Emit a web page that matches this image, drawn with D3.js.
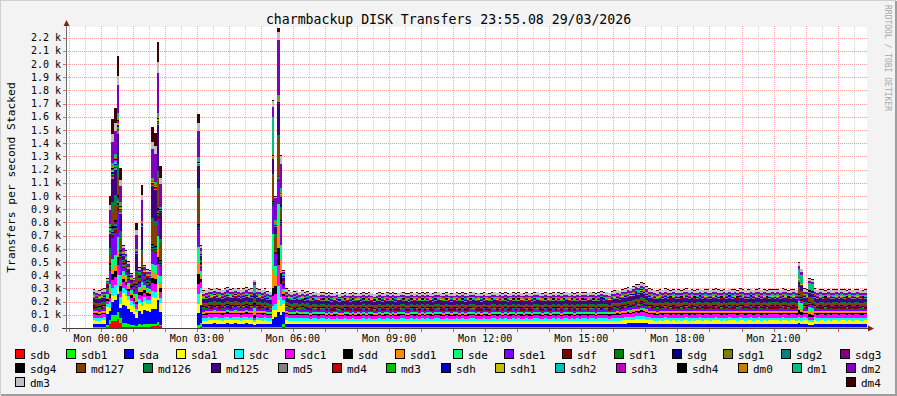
<!DOCTYPE html>
<html><head><meta charset="utf-8">
<script src="https://cdn.jsdelivr.net/npm/d3@7"></script>
<style>
body{margin:0;background:#F3F3F3}
svg{display:block}
text{font-family:"DejaVu Sans Mono",monospace;fill:#000}
</style>
</head><body>
<svg id="c" width="897" height="396"></svg>
<script>
// ---------- series ----------
const seriesNames = ["sdb","sdb1","sda","sda1","sdc","sdc1","sdd","sdd1","sde","sde1","sdf","sdf1","sdg","sdg1","sdg2","sdg3",
  "sdg4","md127","md126","md125","md5","md4","md3","sdh","sdh1","sdh2","sdh3","sdh4","dm0","dm1","dm2","dm3","dm4"];
const seriesColors = ["#FF0000","#00FF00","#0000FF","#FFFF00","#00FFFF","#FF00FF","#000000","#FF8C00","#00FF80","#8000FF","#800000","#008000","#000080","#808000","#008080","#800080",
  "#000000","#804000","#008040","#400080","#808080","#C00000","#00C000","#0000C0","#C0C000","#00C0C0","#C000C0","#000000","#C08000","#00C080","#8000C0","#C0C0C0","#400000"];
const legendRows = [16, 15, 2];

// ---------- time ----------
const startTime = "2026-03-29T22:55:00Z";
const endTime   = "2026-03-30T23:55:00Z";
const nightStart = "2026-03-29T23:45:00Z";
const dayStart   = "2026-03-30T03:00:00Z";
const stepMinutes = 5;

// ---------- totals per 5-minute step (transfers/s, stacked height) ----------
const totalsNight = [295,290,285,295,300,375,1000,1580,1670,2060,1210,630,590,505,420,380,795,460,1085,480,445,440,1520,1480,2170,1225];
const totalsDay = [
 1620,630,285,290,300,295,305,300,295,290,300,310,
 295,300,305,300,290,300,310,295,300,365,300,295,
 290,300,280,275,1730,1000,2270,1310,440,300,285,275,
 280,290,275,285,270,280,265,270,275,268,272,270,
 265,270,262,268,272,260,265,270,268,262,270,265,
 268,262,270,265,272,268,260,266,270,263,268,272,
 265,270,262,268,275,270,265,262,270,268,272,266,
 270,265,272,268,262,270,275,268,265,270,268,262,
 268,272,265,270,262,268,270,275,265,268,262,270,
 268,265,270,275,268,272,265,270,262,268,270,265,
 270,268,265,272,268,262,270,275,268,265,270,268,
 265,270,268,272,265,270,275,268,270,265,272,268,
 270,272,268,275,270,265,272,278,270,275,268,280,
 285,290,282,295,300,310,305,320,335,330,350,340,
 320,300,295,290,285,295,290,300,292,288,295,290,
 292,288,295,300,290,295,288,292,298,290,295,292,
 290,295,300,292,288,295,290,298,292,295,288,300,
 295,290,292,298,290,295,300,290,295,288,292,295,
 292,295,290,300,295,288,292,295,290,500,450,300,
 295,380,370,300,290,295,292,288,295,290,292,295,
 290,295,292,288,295,290,292,295,290,288,292];

// ---------- composition of each step (per-series values, same order as seriesNames) ----------
const profBase     = [2,4,25,23,20,23,9,9,6,15,4,4,4,2,2,4,4,15,8,27,4,2,2,4,2,2,2,2,4,4,15,18,5];
const profBurstA   = [68,58,139,51,89,76,63,51,101,202,30,20,15,10,15,15,20,140,100,230,20,15,15,15,10,10,10,10,20,30,215,76,150];
const profBurstB   = [20,20,150,110,60,80,50,60,80,120,15,15,10,5,5,10,10,215,40,316,10,5,5,10,5,5,5,5,10,20,278,76,139];
const profBurstLow = [10,25,126,76,38,38,25,25,25,25,6,6,4,3,3,4,4,15,8,30,4,2,2,4,2,2,2,2,4,6,20,15,10];
const profS0300    = [0,25,88,76,76,76,76,88,126,126,15,10,5,3,3,5,5,240,43,172,5,3,3,5,3,3,3,3,5,38,195,66,68];
const profS0520    = [0,10,61,76,30,80,70,152,278,228,10,10,5,3,3,5,5,205,15,121,5,3,3,5,3,3,3,3,10,303,76,53,8];
const profS0525    = [0,10,80,60,50,80,70,90,80,100,10,10,5,3,3,5,5,100,20,60,5,3,3,5,3,3,3,3,10,20,180,10,10];
const profS0530    = [0,10,111,89,100,152,127,164,164,167,10,10,5,3,3,5,5,278,20,228,5,3,3,5,3,3,3,3,20,20,405,63,25];
const profS0535    = [0,10,90,70,70,100,80,100,120,150,10,10,5,3,3,5,5,80,20,80,5,3,3,5,3,3,3,3,10,30,182,60,10];
const profLate     = [2,4,25,23,20,23,25,25,40,20,4,4,4,2,2,4,4,40,10,35,4,2,2,4,2,2,2,2,4,60,25,18,6];

const nightProfileKeys = ["base","base","base","base","base","burstLow","burstA","burstA","burstA","burstA","burstA",
  "burstLow","burstLow","burstLow","burstLow","burstLow","burstB","burstLow","burstB","burstLow","burstLow","burstLow",
  "burstB","burstB","burstB","burstB"];
const dayProfileTimes = ["03:00","03:05","04:45","05:20","05:25","05:30","05:35","05:40","21:45","21:50","22:05","22:10"];
const dayProfileKeys  = ["s0300","burstLow","late","s0520","s0525","s0530","s0535","burstLow","late","late","late","late"];

const yTickLabels = ["0.0","0.1 k","0.2 k","0.3 k","0.4 k","0.5 k","0.6 k","0.7 k","0.8 k","0.9 k","1.0 k","1.1 k",
  "1.2 k","1.3 k","1.4 k","1.5 k","1.6 k","1.7 k","1.8 k","1.9 k","2.0 k","2.1 k","2.2 k"];
const yTickValues = [0,100,200,300,400,500,600,700,800,900,1000,1100,1200,1300,1400,1500,1600,1700,1800,1900,2000,2100,2200];

const titleText = "charmbackup DISK Transfers 23:55.08 29/03/2026";
const yLabelText = "Transfers per second Stacked";
const watermark = "RRDTOOL / TOBI OETIKER";

// ---------- build ----------
const profiles = {base:profBase, burstA:profBurstA, burstB:profBurstB, burstLow:profBurstLow,
  s0300:profS0300, s0520:profS0520, s0525:profS0525, s0530:profS0530, s0535:profS0535, late:profLate};
const STEP = stepMinutes*60*1000;
const hm = d3.utcFormat("%H:%M");
const rows = [];
function addSegment(startIso, totals, keyFor){
  const t0 = +new Date(startIso);
  let last;
  totals.forEach((tot,i)=>{
    const t = new Date(t0 + i*STEP);
    const prof = profiles[keyFor(i,t)];
    const s = d3.sum(prof);
    const row = {t, gap:false};
    seriesNames.forEach((n,k)=>row[n] = tot*prof[k]/s);
    rows.push(row); last = row;
  });
  const tEnd = new Date(t0 + totals.length*STEP);
  rows.push(Object.assign({}, last, {t:tEnd}));
  rows.push(Object.assign({}, last, {t:tEnd, gap:true}));
}
addSegment(nightStart, totalsNight, i=>nightProfileKeys[i]);
addSegment(dayStart, totalsDay, (i,t)=>{const j = dayProfileTimes.indexOf(hm(t)); return j>=0 ? dayProfileKeys[j] : "base";});

const X0 = 66, X1 = 867, Y0 = 328, Y1 = 27;
const x = d3.scaleUtc().domain([new Date(startTime), new Date(endTime)]).range([X0, X1]);
const y = d3.scaleLinear().domain([0, 2280]).range([Y0, Y1]);

const svg = d3.select("#c");
// frame
svg.append("rect").attr("x",0).attr("y",0).attr("width",897).attr("height",396).attr("fill","#F3F3F3");
svg.append("path").attr("d","M0,395V0H896").attr("fill","none").attr("stroke","#CFCFCF").attr("stroke-width",2);
svg.append("path").attr("d","M1,395H896V1").attr("fill","none").attr("stroke","#9E9E9E").attr("stroke-width",2);
// canvas
svg.append("rect").attr("x",X0).attr("y",Y1).attr("width",X1-X0).attr("height",Y0-Y1).attr("fill","#FFFFFF");

const g = svg.append("g").attr("shape-rendering","crispEdges");
const px = v => Math.round(v)+0.5;
const gridRed = "#F2A6A6", gridGray = "#D0D0D0";
// minor vertical grid (30 min)
const minor = d3.utcMinute.every(30).range(new Date(startTime), new Date(endTime)).filter(d=>d.getUTCMinutes()===30);
g.selectAll(".vmin").data(minor).join("line")
  .attr("x1",d=>px(x(d))).attr("x2",d=>px(x(d))).attr("y1",Y1-1).attr("y2",Y0)
  .attr("stroke",gridGray).attr("stroke-dasharray","1,1");
// major vertical grid (1 h)
const major = d3.utcHour.range(new Date(startTime), new Date(endTime));
g.selectAll(".vmaj").data(major).join("line")
  .attr("x1",d=>px(x(d))).attr("x2",d=>px(x(d))).attr("y1",Y1-1).attr("y2",Y0)
  .attr("stroke",gridRed).attr("stroke-dasharray","1,1");
// horizontal grid
g.selectAll(".hmaj").data(yTickValues.slice(1)).join("line")
  .attr("x1",X0).attr("x2",X1).attr("y1",d=>px(y(d))).attr("y2",d=>px(y(d)))
  .attr("stroke",gridRed).attr("stroke-dasharray","1,1");
// ticks
g.selectAll(".xt").data(major).join("line")
  .attr("x1",d=>px(x(d))).attr("x2",d=>px(x(d))).attr("y1",Y0+1).attr("y2",Y0+4)
  .attr("stroke","#C86464");
g.selectAll(".yt").data(yTickValues).join("line")
  .attr("x1",X0-3).attr("x2",X0).attr("y1",d=>px(y(d))).attr("y2",d=>px(y(d)))
  .attr("stroke","#D07070");

// stacked areas
const stack = d3.stack().keys(seriesNames);
const layers = stack(rows);
const area = d3.area().defined(d=>!d.data.gap)
  .x(d=>Math.round(x(d.data.t))).y0(d=>Math.round(y(d[0]))).y1(d=>Math.round(y(d[1])))
  .curve(d3.curveStepAfter);
svg.append("g").selectAll("path").data(layers).join("path")
  .attr("d",area).attr("fill",(d,i)=>seriesColors[i]).attr("shape-rendering","crispEdges");

// axes
const ax = svg.append("g").attr("shape-rendering","crispEdges");
ax.append("line").attr("x1",X0-4).attr("x2",X1+2).attr("y1",Y0+0.5).attr("y2",Y0+0.5).attr("stroke","#4A3A3A");
ax.append("line").attr("x1",X0+0.5).attr("x2",X0+0.5).attr("y1",Y0+4).attr("y2",Y1-3).attr("stroke","#6A6A6A");
svg.append("path").attr("d",`M${X1+7},${Y0+0.5}L${X1+1},${Y0-2.5}L${X1+1},${Y0+3.5}Z`).attr("fill","#801F1F");
svg.append("path").attr("d",`M${X0+0.5},${Y1-7}L${X0-2.5},${Y1-1}L${X0+3.5},${Y1-1}Z`).attr("fill","#801F1F");

// y tick labels
svg.append("g").selectAll("text").data(yTickValues).join("text")
  .attr("x",31).attr("y",d=>y(d)+3.6).attr("font-size","10px").text((d,i)=>yTickLabels[i]);
// x tick labels
const labelTimes = d3.utcHour.every(3).range(new Date(startTime), new Date(endTime));
svg.append("g").selectAll("text").data(labelTimes).join("text")
  .attr("x",d=>x(d)).attr("y",341.5).attr("text-anchor","middle").attr("font-size","10px")
  .text(d=>d3.utcFormat("%a %H:%M")(d));

// title, y label, watermark
svg.append("text").attr("x",448.5).attr("y",23.5).attr("text-anchor","middle").attr("font-size","13.2px").text(titleText);
svg.append("text").attr("transform","translate(15,177.5) rotate(-90)").attr("text-anchor","middle")
  .attr("font-size","11.3px").text(yLabelText);
svg.append("text").attr("transform","translate(885,5) rotate(90)").attr("font-size","8px")
  .style("fill","#A8A8A8").text(watermark);

// legend (justified rows)
const cw = 11*0.602, L = 15, R = 881;
let idx = 0;
legendRows.forEach((n,r)=>{
  const items = seriesNames.slice(idx, idx+n).map((name,j)=>({name, color:seriesColors[idx+j], w:15+name.length*cw}));
  const total = d3.sum(items,d=>d.w);
  const gap = n>1 ? (R-L-total)/(n-1) : 0;
  let cx = L;
  const top = 349.5 + r*14;
  items.forEach(it=>{
    svg.append("rect").attr("x",Math.round(cx)+0.5).attr("y",top).attr("width",9).attr("height",9)
      .attr("fill",it.color).attr("stroke","#000");
    svg.append("text").attr("x",Math.round(cx)+15).attr("y",top+9).attr("font-size","11px").text(it.name);
    cx += it.w + gap;
  });
  idx += n;
});
</script>
</body></html>
